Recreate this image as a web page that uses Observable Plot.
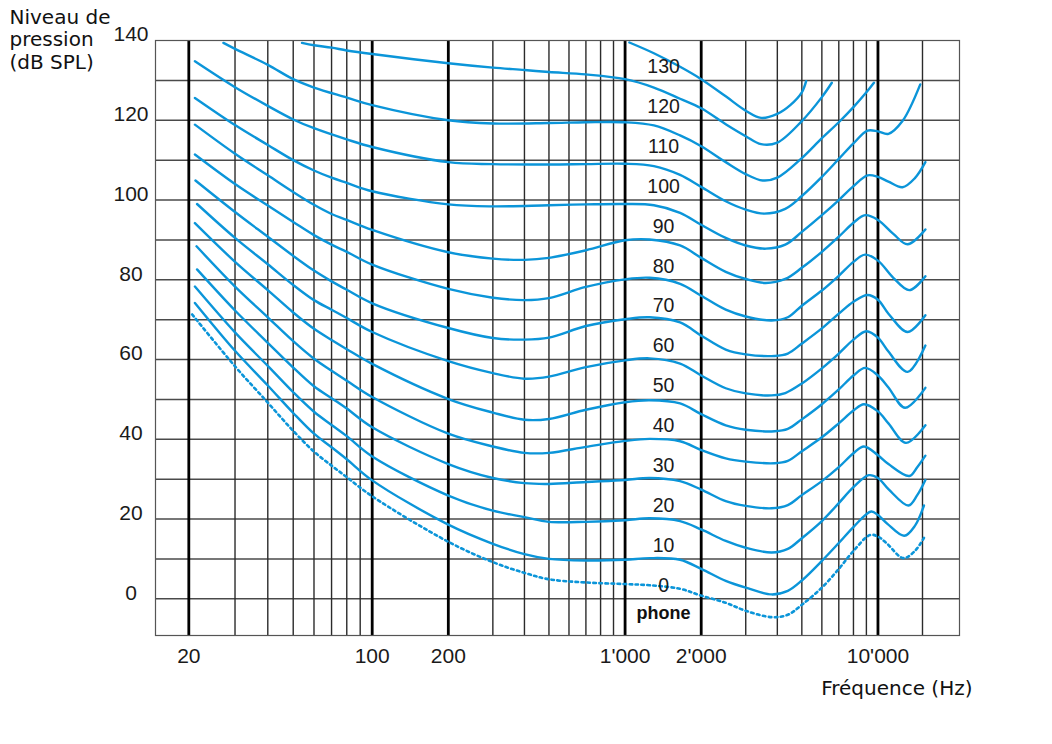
<!DOCTYPE html>
<html>
<head>
<meta charset="utf-8">
<script src="https://cdn.jsdelivr.net/npm/d3@7"></script>
<script src="https://cdn.jsdelivr.net/npm/@observablehq/plot@0.6"></script>
<style>
  body { margin: 0; background: #fff; }
  #chart svg { display: block; }
</style>
</head>
<body>
<div id="chart"></div>
<script>
// grid and ticks
const thickFreqs = [20, 100, 200, 1000, 2000, 10000];
const thinFreqs = [30, 40, 50, 60, 70, 80, 90, 300, 400, 500, 600, 700, 800, 900,
  3000, 4000, 5000, 6000, 7000, 8000, 9000, 15000];
const gridLevels = [0, 10, 20, 30, 40, 50, 60, 70, 80, 90, 100, 110, 120, 130];
const yTicks = [0, 20, 40, 60, 80, 100, 120, 140];
const xTicks = [20, 100, 200, 1000, 2000, 10000];
const xTickLabels = ["20", "100", "200", "1'000", "2'000", "10'000"];

// labels written next to the curves
const curveLabels = [130, 120, 110, 100, 90, 80, 70, 60, 50, 40, 30, 20, 10, 0];
const labelFreq = 1420;

// curves, [Hz, dB SPL], named by their level at 1 kHz
const curve140 = [[1040,139.5],[1300,136.8],[1650,133.4],[2000,130.3],[2500,126.0],[3000,122.4],
  [3450,120.6],[4000,121.6],[4500,123.8],[5000,127.0],[5200,129.8]];
const curve130 = [[54,139.4],[60,138.8],[70,138.2],[80,137.5],[100,136.6],[200,134.3],
  [300,133.2],[400,132.6],[500,132.1],[700,131.5],[1000,130.3],[1300,128.2],[1650,125.4],[2000,123.0],
  [2500,119.0],[3000,116.0],[3450,114.0],[4000,114.4],[5000,119.8],[6000,125.8],[6570,129.4]];
const curve120 = [[27.1,139.4],[30,137.9],[40,133.9],[50,130.3],[60,128.2],[80,125.7],[100,123.8],
  [200,120.0],[300,119.2],[500,119.3],[700,119.5],[1000,119.5],[1300,118.7],[1650,116.2],
  [2000,113.5],[2500,109.5],[3000,106.5],[3500,104.9],[4000,105.6],[5000,110.5],[6000,115.5],
  [7000,119.5],[8000,123.3],[9000,127.0],[9640,129.4]];
const curve110 = [[21.1,134.8],[30,128.3],[40,123.6],[50,120.2],[60,118.0],[80,115.2],[100,113.3],
  [200,109.5],[300,109.0],[500,108.9],[700,109.0],[1000,109.1],[1300,108.5],[1650,106.3],
  [2000,103.3],[2500,99.7],[3000,97.6],[3550,96.6],[4300,97.8],[5000,101.0],[6000,105.8],
  [7000,110.3],[8000,114.2],[9100,117.4],[10000,117.2],[11000,116.6],[12500,119.8],[14700,129.0]];
const curve100 = [[21.1,125.6],[30,118.8],[40,113.8],[50,110.0],[60,107.4],[70,105.6],[80,104.3],
  [100,102.2],[200,98.9],[300,98.4],[500,98.7],[700,98.9],[1000,99.0],[1300,98.7],[1650,96.8],
  [2000,93.8],[2500,90.5],[3000,88.6],[3600,87.8],[4300,88.8],[5000,92.0],[6000,96.2],[7000,100.0],
  [8000,103.5],[9100,106.2],[10000,105.8],[11000,104.6],[12500,103.2],[14000,105.5],[15400,109.5]];
const curve90 = [[21.1,118.9],[30,111.6],[40,106.2],[50,102.0],[60,98.8],[70,96.5],[80,95.0],
  [100,92.5],[200,86.9],[300,85.3],[400,85.0],[500,85.5],[700,87.4],[1000,89.9],[1250,90.1],
  [1650,88.6],[2000,85.5],[2500,82.0],[3000,80.2],[3600,79.2],[4300,80.2],[5000,83.0],[6000,87.0],
  [7000,90.8],[8000,94.3],[8900,96.2],[10000,95.0],[11500,91.5],[13100,88.9],[15400,92.6]];
const curve80 = [[21.1,111.4],[30,104.0],[40,98.6],[50,94.5],[60,91.2],[70,88.8],[80,87.0],
  [100,83.8],[200,77.7],[300,75.5],[400,74.9],[500,75.4],[700,78.2],[1000,80.1],[1250,80.5],
  [1650,79.0],[2000,76.0],[2500,72.5],[3000,70.8],[3800,69.8],[4400,70.6],[5000,73.5],[6000,77.3],
  [7000,81.0],[8000,84.5],[8900,86.3],[10000,84.8],[11500,80.5],[13300,77.4],[15400,80.9]];
const curve70 = [[21.2,104.9],[30,97.0],[40,90.8],[50,86.0],[60,82.3],[70,79.6],[80,77.5],
  [100,74.1],[200,67.9],[300,65.4],[400,65.0],[500,65.5],[700,68.4],[1000,70.1],[1250,70.6],
  [1650,69.3],[2000,66.0],[2500,62.5],[3000,61.3],[3900,60.9],[4400,61.5],[5000,64.0],[6000,67.8],
  [7000,71.5],[8000,74.5],[9100,76.2],[10000,75.0],[11000,71.5],[13100,66.9],[15400,71.1]];
const curve60 = [[21.5,99.0],[30,90.5],[40,83.9],[50,78.7],[60,74.9],[70,72.5],[80,70.4],
  [100,66.9],[200,59.6],[300,56.6],[400,55.2],[500,55.7],[700,58.1],[1000,59.8],[1250,60.3],
  [1650,59.0],[2000,56.0],[2500,52.8],[3000,51.5],[3800,51.0],[4300,51.6],[5000,54.0],[6000,57.8],
  [7000,61.5],[8000,65.0],[9000,67.1],[10000,65.5],[11000,62.0],[13100,56.9],[15400,63.5]];
const curve50 = [[21.1,94.2],[30,84.5],[40,77.4],[50,71.8],[60,67.7],[70,64.9],[80,62.6],
  [100,58.9],[200,50.1],[300,46.7],[400,44.9],[500,45.1],[700,47.4],[1000,49.3],[1250,49.8],
  [1650,49.0],[2000,46.3],[2500,43.5],[3000,42.4],[3900,42.0],[4400,42.6],[5000,45.0],[6000,48.8],
  [7000,52.5],[8000,56.0],[8900,57.9],[10000,56.0],[11000,53.0],[12800,47.9],[15400,52.9]];
const curve40 = [[21.4,88.4],[30,78.3],[40,70.6],[50,64.6],[60,60.2],[70,57.2],[80,54.7],
  [100,50.6],[200,41.4],[300,38.2],[400,36.6],[500,36.6],[700,38.1],[1000,39.6],[1250,40.1],
  [1650,39.5],[2000,37.3],[2500,35.2],[3000,34.4],[3900,34.0],[4400,34.6],[5000,37.0],[6000,40.5],
  [7000,44.0],[8000,47.2],[8800,48.8],[10000,47.0],[11000,44.0],[12900,39.1],[15400,43.5]];
const curve30 = [[21.5,82.6],[30,72.3],[40,64.2],[50,58.0],[60,53.3],[70,50.3],[80,47.7],
  [100,43.0],[200,33.8],[300,30.3],[400,29.0],[500,28.8],[700,29.3],[1000,29.8],[1250,30.3],
  [1650,29.5],[2000,27.4],[2500,24.5],[3000,23.3],[3800,22.7],[4400,23.5],[5000,26.0],[6000,29.5],
  [7000,33.0],[8000,36.5],[8800,38.2],[10000,36.0],[11000,33.8],[13300,30.8],[14300,33.0],[15400,35.9]];
const curve20 = [[21.1,78.3],[30,66.8],[40,58.4],[50,51.8],[60,46.9],[70,43.6],[80,40.8],
  [100,35.7],[200,25.9],[300,22.1],[400,20.5],[500,19.3],[700,19.3],[1000,19.7],[1250,20.2],
  [1650,19.5],[2000,17.4],[2500,14.5],[3000,12.8],[3800,11.6],[4400,12.5],[5000,15.2],[6000,19.5],
  [7000,24.0],[8000,28.0],[9200,31.0],[10000,30.3],[11000,27.5],[13200,23.4],[14300,26.0],[15400,29.8]];
const curve10 = [[21.1,74.2],[30,62.2],[40,53.5],[50,46.6],[60,41.4],[70,38.0],[80,35.0],
  [100,29.7],[200,18.6],[300,13.8],[400,11.2],[500,10.0],[700,9.6],[1000,9.8],[1250,10.2],
  [1650,9.8],[2000,7.5],[2500,4.5],[3000,2.8],[3800,1.1],[4400,2.0],[5000,4.6],[6000,9.5],
  [7000,14.0],[8000,18.0],[9400,21.9],[10000,21.0],[10900,18.8],[12700,15.8],[14000,18.3],[15200,23.4]];
// hearing threshold (dotted)
const threshold = [[20.6,71.3],[30,58.3],[40,49.2],[50,42.1],[60,36.9],[70,33.4],[80,30.5],
  [100,25.7],[200,14.3],[300,9.2],[400,6.5],[500,4.9],[700,4.1],[1000,3.7],[1250,3.4],[1650,2.5],
  [2000,0.8],[2500,-1.0],[3000,-3.0],[3800,-4.6],[4400,-4.0],[5000,-1.5],[6000,2.8],[7000,7.5],
  [8000,12.0],[9300,16.0],[10000,15.6],[10800,14.0],[12600,10.2],[14000,12.0],[15200,15.3]];

const solidCurves = {curve140, curve130, curve120, curve110, curve100, curve90, curve80,
  curve70, curve60, curve50, curve40, curve30, curve20, curve10};
const rows = Object.entries(solidCurves).flatMap(([name, pts]) =>
  pts.map(([f, db]) => ({name, f, db})));
const thresholdRows = threshold.map(([f, db]) => ({f, db}));

const blue = "#0b95d9";
const numFont = "Liberation Sans, Arial, sans-serif";
const textFont = "DejaVu Sans, Verdana, sans-serif";

const chart = Plot.plot({
  width: 1052,
  height: 744,
  marginLeft: 155,
  marginRight: 93,
  marginTop: 40,
  marginBottom: 109,
  style: {fontFamily: numFont, fontSize: "21px", color: "#1a1a1a", background: "#fff"},
  // the reference decades are not quite even: piecewise log keeps the grid where it was drawn
  x: {type: "log", domain: [14.93, 100, 21010], range: [155, 371.7, 959]},
  y: {domain: [-9.2, 140], range: [635, 40]},
  marks: [
    Plot.ruleY(gridLevels, {stroke: "#4a4a4a", strokeWidth: 1.5}),
    Plot.ruleX(thinFreqs, {stroke: "#2b2b2b", strokeWidth: 1.4}),
    Plot.ruleX(thickFreqs, {stroke: "#000", strokeWidth: 2.8}),
    Plot.frame({stroke: "#555", strokeWidth: 1.2}),
    Plot.line(rows, {x: "f", y: "db", z: "name", stroke: blue, strokeWidth: 2.4, curve: "catmull-rom"}),
    Plot.line(thresholdRows, {x: "f", y: "db", stroke: blue, strokeWidth: 2.6,
      strokeDasharray: "2.6,3.4", curve: "catmull-rom"}),
    Plot.text(curveLabels, {x: () => labelFreq, y: d => d, text: d => String(d), dy: -13.5,
      fontSize: 19.5, fontFamily: numFont, fill: "#1a1a1a"}),
    Plot.text(["phone"], {x: () => labelFreq, frameAnchor: "bottom", dy: -16.5,
      fontSize: 18, fontWeight: "bold", fontFamily: numFont, fill: "#111"}),
    Plot.axisY(yTicks, {anchor: "left", tickSize: 0, tickPadding: 24.5, textAnchor: "middle",
      dy: -6, fontSize: 21, label: null}),
    Plot.axisX(xTicks, {anchor: "bottom", tickSize: 0, tickPadding: 13, fontSize: 21, label: null,
      tickFormat: d => xTickLabels[xTicks.indexOf(d)]}),
    Plot.text(["Niveau de\npression\n(dB SPL)"], {frameAnchor: "top-left", dx: -146, dy: -33,
      textAnchor: "start", lineAnchor: "top", lineHeight: 1.14, fontSize: 20,
      fontFamily: textFont, fill: "#111"}),
    Plot.text(["Fréquence (Hz)"], {frameAnchor: "bottom-right", dx: 13, dy: 53,
      textAnchor: "end", lineAnchor: "middle", fontSize: 20, fontFamily: textFont, fill: "#111"})
  ]
});

document.getElementById("chart").append(chart);
</script>
</body>
</html>
